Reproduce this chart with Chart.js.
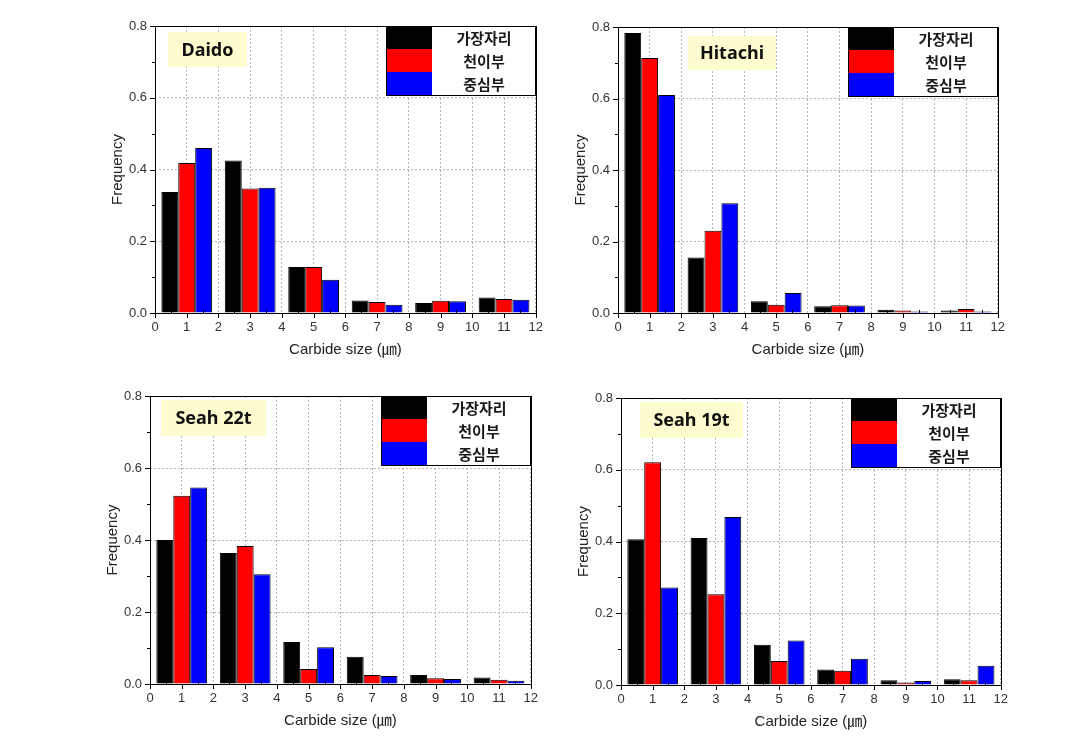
<!DOCTYPE html>
<html><head><meta charset="utf-8">
<script src="https://cdn.jsdelivr.net/npm/chart.js@4/dist/chart.umd.min.js"></script>
<style>
html,body{margin:0;padding:0;background:#fff;}
body{width:1071px;height:749px;position:relative;overflow:hidden;}
canvas{position:absolute;}
</style></head>
<body>
<script>
// ---------- data ----------
const categories = [1, 3, 5, 7, 9, 11];           // bin centres (µm)
const seriesNames = ['가장자리', '천이부', '중심부'];
const panelTitles = ['Daido', 'Hitachi', 'Seah 22t', 'Seah 19t'];
const xTickValues = [0,1,2,3,4,5,6,7,8,9,10,11,12];
const yTickValues = [0, 0.2, 0.4, 0.6, 0.8];
const xTitle = 'Carbide size (㎛)';
const yTitle = 'Frequency';

const daidoEdge    = [0.337, 0.425, 0.128, 0.035, 0.028, 0.043];
const daidoTrans   = [0.418, 0.347, 0.128, 0.031, 0.034, 0.039];
const daidoCenter  = [0.460, 0.349, 0.093, 0.023, 0.033, 0.037];

const hitachiEdge   = [0.783, 0.155, 0.033, 0.019, 0.009, 0.007];
const hitachiTrans  = [0.713, 0.230, 0.023, 0.022, 0.007, 0.011];
const hitachiCenter = [0.610, 0.307, 0.056, 0.021, 0.004, 0.004];

const seah22Edge   = [0.400, 0.364, 0.117, 0.076, 0.025, 0.018];
const seah22Trans  = [0.523, 0.383, 0.042, 0.025, 0.016, 0.012];
const seah22Center = [0.546, 0.305, 0.102, 0.022, 0.014, 0.009];

const seah19Edge   = [0.406, 0.410, 0.112, 0.043, 0.013, 0.016];
const seah19Trans  = [0.621, 0.253, 0.067, 0.040, 0.007, 0.013];
const seah19Center = [0.272, 0.468, 0.124, 0.073, 0.011, 0.054];

const panelSeries = [
  [daidoEdge, daidoTrans, daidoCenter],
  [hitachiEdge, hitachiTrans, hitachiCenter],
  [seah22Edge, seah22Trans, seah22Center],
  [seah19Edge, seah19Trans, seah19Center]
];

// ---------- layout & style ----------
const seriesColors = ['#000000', '#ff0000', '#0000ff'];
const layouts = [
  {plot: [155, 26, 538, 313],  label: [13, 6, 79, 35]},
  {plot: [618, 27, 1000, 313], label: [70, 9, 88, 34]},
  {plot: [150, 396, 533, 684], label: [11, 4, 105, 36]},
  {plot: [621, 398, 1003, 685], label: [19, 4, 103, 36]}
];
const PAD_L = 55, PAD_T = 16, PAD_R = 12, PAD_B = 47;
const tickFont = {family: '"Liberation Sans", Arial, sans-serif', size: 13};
const titleFont = {family: '"Liberation Sans", Arial, "Noto Sans CJK KR", sans-serif', size: 15};

const decorPlugin = {
  id: 'decor',
  afterDraw(chart, args, opts) {
    const ctx = chart.ctx;
    const a = chart.chartArea;
    const xs = chart.scales.x, ys = chart.scales.y;
    ctx.save();
    // tick marks
    ctx.strokeStyle = '#000';
    ctx.lineWidth = 1;
    ctx.beginPath();
    xTickValues.forEach(v => {
      const px = Math.round(xs.getPixelForValue(v)) + 0.5;
      ctx.moveTo(px, a.bottom); ctx.lineTo(px, a.bottom + 5);
      if (v < 12) {
        const pm = Math.round(xs.getPixelForValue(v + 0.5)) + 0.5;
        ctx.moveTo(pm, a.bottom); ctx.lineTo(pm, a.bottom - 3);
      }
    });
    yTickValues.forEach(v => {
      const py = Math.round(ys.getPixelForValue(v)) + 0.5;
      ctx.moveTo(a.left, py); ctx.lineTo(a.left - 5, py);
      if (v < 0.8) {
        const pm = Math.round(ys.getPixelForValue(v + 0.1)) + 0.5;
        ctx.moveTo(a.left, pm); ctx.lineTo(a.left - 3, pm);
      }
    });
    ctx.stroke();
    // frame
    ctx.strokeRect(Math.round(a.left) + 0.5, Math.round(a.top) + 0.5,
                   Math.round(a.right - a.left), Math.round(a.bottom - a.top));

    // panel label
    const L = opts.label;
    ctx.fillStyle = '#fdfdcf';
    ctx.fillRect(a.left + L[0], a.top + L[1], L[2], L[3]);
    ctx.fillStyle = '#111';
    ctx.font = 'bold 18px "Noto Sans", "Liberation Sans", sans-serif';
    ctx.textAlign = 'center';
    ctx.textBaseline = 'middle';
    ctx.fillText(opts.title, a.left + L[0] + L[2] / 2, a.top + L[1] + L[3] / 2 + 1);

    // legend
    const lw = 150, lh = 69, sw = 46;
    const lx = Math.round(a.right - lw), ly = Math.round(a.top);
    ctx.fillStyle = '#fff';
    ctx.fillRect(lx, ly, lw, lh);
    const rowH = lh / chart.data.datasets.length;
    chart.data.datasets.forEach((ds, i) => {
      ctx.fillStyle = ds.backgroundColor;
      ctx.fillRect(lx, ly + i * rowH, sw, rowH + (i < 2 ? 0.5 : 0));
      ctx.fillStyle = '#1a1a1a';
      ctx.font = 'bold 15px "Noto Sans CJK KR", sans-serif';
      ctx.fillText(ds.label, lx + sw + (lw - sw) / 2, ly + i * rowH + rowH / 2 + 1);
    });
    ctx.strokeStyle = '#000';
    ctx.lineWidth = 1;
    ctx.strokeRect(lx + 0.5, ly + 0.5, lw - 1, lh);
    ctx.restore();
  }
};

layouts.forEach((lay, p) => {
  const [x0, y0, x1, y1] = lay.plot;
  const cv = document.createElement('canvas');
  const w = x1 - x0 + PAD_L + PAD_R, h = y1 - y0 + PAD_T + PAD_B;
  cv.width = w; cv.height = h;
  cv.style.left = (x0 - PAD_L) + 'px';
  cv.style.top = (y0 - PAD_T) + 'px';
  cv.style.width = w + 'px'; cv.style.height = h + 'px';
  document.body.appendChild(cv);

  const datasets = panelSeries[p].map((vals, i) => ({
    label: seriesNames[i],
    data: categories.map((c, j) => ({x: c, y: vals[j]})),
    backgroundColor: seriesColors[i],
    borderColor: '#000',
    borderWidth: 1,
    // bin width 2 µm: ruler min is one x-tick (1 µm), so 1.6 => group spans 1.6 µm
    categoryPercentage: 1.6,
    barPercentage: 1.0
  }));

  new Chart(cv, {
    type: 'bar',
    data: {datasets},
    plugins: [decorPlugin],
    options: {
      responsive: false,
      animation: false,
      devicePixelRatio: 1,
      layout: {padding: {top: PAD_T, right: PAD_R, left: 0, bottom: 0}},
      plugins: {
        legend: {display: false},
        tooltip: {enabled: false},
        decor: {title: panelTitles[p], label: lay.label}
      },
      scales: {
        x: {
          type: 'linear', min: 0, max: 12, offset: false,
          afterBuildTicks(s) { s.ticks = xTickValues.map(v => ({value: v})); },
          afterFit(s) { s.height = PAD_B; },
          grid: {color: '#b4b4b4', lineWidth: 1, drawTicks: false, offset: false},
          border: {display: false, dash: [2, 2]},
          ticks: {padding: 7, font: tickFont, color: '#333', maxRotation: 0, autoSkip: false},
          title: {display: true, text: xTitle, font: titleFont, color: '#222', padding: {top: 4, bottom: 1}}
        },
        y: {
          type: 'linear', min: 0, max: 0.8,
          afterBuildTicks(s) { s.ticks = yTickValues.map(v => ({value: v})); },
          afterFit(s) { s.width = PAD_L; },
          grid: {color: '#b4b4b4', lineWidth: 1, drawTicks: false},
          border: {display: false, dash: [2, 2]},
          ticks: {padding: 8, font: tickFont, color: '#333', callback: v => Number(v).toFixed(1)},
          title: {display: true, text: yTitle, font: titleFont, color: '#222', padding: {top: 9, bottom: 0}}
        }
      }
    }
  });
});
</script>
</body></html>
